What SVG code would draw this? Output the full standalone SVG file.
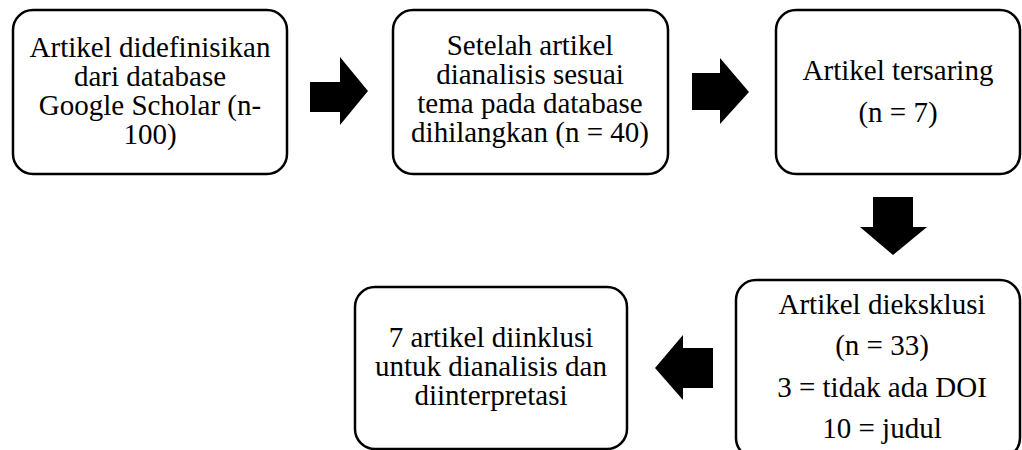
<svg xmlns="http://www.w3.org/2000/svg" width="1022" height="450" viewBox="0 0 1022 450">
<style>
.box{fill:#fff;stroke:#000;stroke-width:2.5}
.t{font-family:'Liberation Serif','Times New Roman',serif;font-size:29px;fill:#000;text-anchor:middle}
.arr{fill:#000}
</style>
<rect width="1022" height="450" fill="#fff"/>
<g id="connectors">
<polygon class="arr" points="310,82 340,82 340,57 368,91 340,125 340,112 310,112"/>
<polygon class="arr" points="692,73 720,73 720,58 749,92 720,124 720,110 692,110"/>
<polygon class="arr" points="873,197 913,197 913,227 927,227 893,255 860,227 873,227"/>
<polygon class="arr" points="713,348 713,388 683,388 683,400 655,368 683,335 683,348"/>
</g>
<g id="node1">
<rect class="box" x="13" y="10" width="274" height="164" rx="20"/>
<text class="t" x="150" y="57">Artikel didefinisikan</text>
<text class="t" x="150" y="86">dari database</text>
<text class="t" x="150" y="115">Google Scholar (n-</text>
<text class="t" x="150" y="144">100)</text>
</g>
<g id="node2">
<rect class="box" x="393" y="10" width="275" height="164" rx="20"/>
<text class="t" x="530" y="55">Setelah artikel</text>
<text class="t" x="530" y="84">dianalisis sesuai</text>
<text class="t" x="530" y="113">tema pada database</text>
<text class="t" x="530" y="142">dihilangkan (n = 40)</text>
</g>
<g id="node3">
<rect class="box" x="776" y="10" width="244" height="164" rx="20"/>
<text class="t" x="898" y="80">Artikel tersaring</text>
<text class="t" x="898" y="122">(n = 7)</text>
</g>
<g id="node4">
<rect class="box" x="736" y="280" width="284" height="178" rx="20"/>
<text class="t" x="882" y="314">Artikel dieksklusi</text>
<text class="t" x="882" y="355">(n = 33)</text>
<text class="t" x="882" y="397">3 = tidak ada DOI</text>
<text class="t" x="882" y="438">10 = judul</text>
</g>
<g id="node5">
<rect class="box" x="355" y="287" width="272" height="162" rx="20"/>
<text class="t" x="491" y="347">7 artikel diinklusi</text>
<text class="t" x="491" y="376">untuk dianalisis dan</text>
<text class="t" x="491" y="405">diinterpretasi</text>
</g>
</svg>
